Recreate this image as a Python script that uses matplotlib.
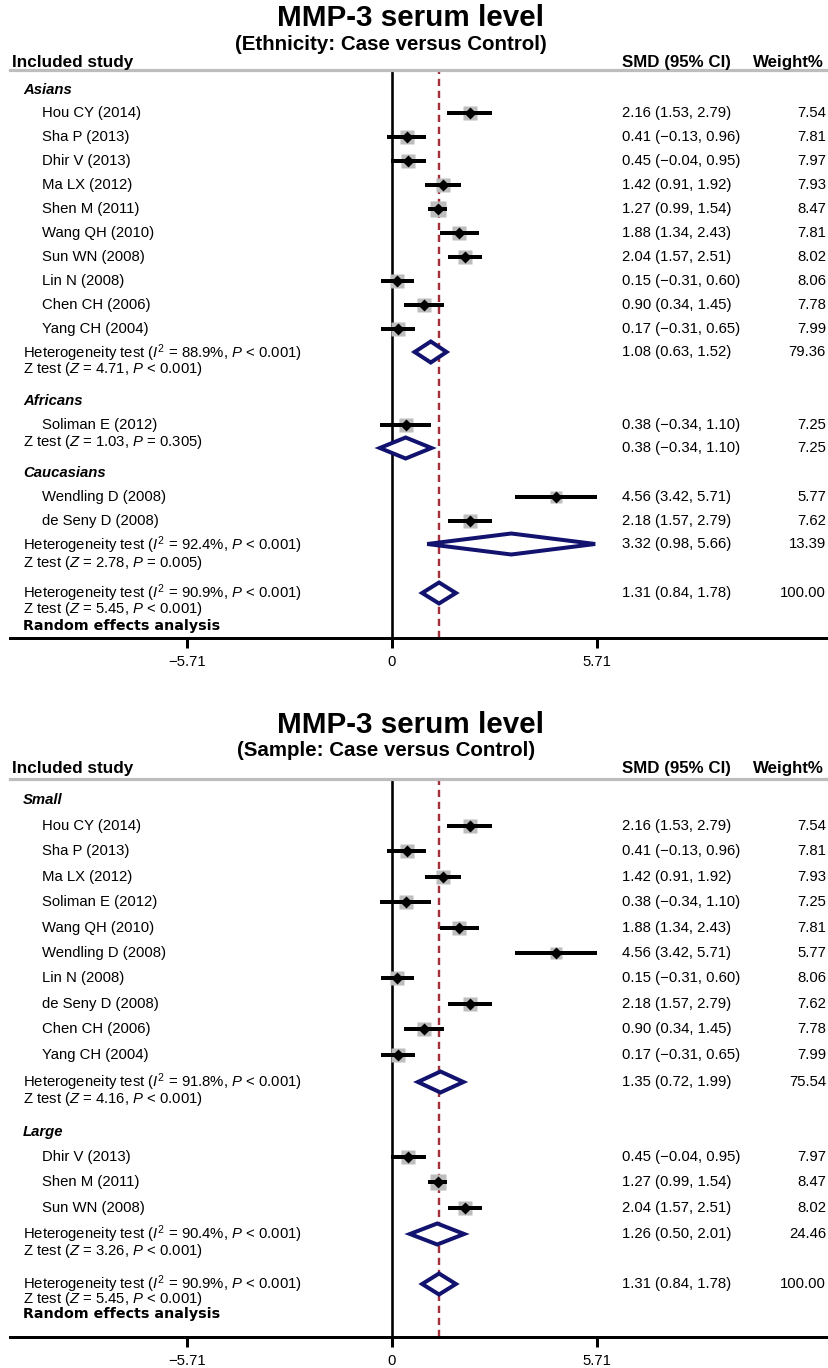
import matplotlib
matplotlib.use("Agg")
import matplotlib.pyplot as plt
import numpy as np
from matplotlib.transforms import blended_transform_factory

plt.rcParams['font.family'] = ['Liberation Sans', 'DejaVu Sans']
plt.rcParams['mathtext.fontset'] = 'custom'
plt.rcParams['mathtext.rm'] = 'Liberation Sans'
plt.rcParams['mathtext.it'] = 'Liberation Sans:italic'
plt.rcParams['mathtext.bf'] = 'Liberation Sans:bold'

# ---------------- data ----------------
study_names = ["Hou CY (2014)", "Sha P (2013)", "Dhir V (2013)", "Ma LX (2012)",
               "Shen M (2011)", "Wang QH (2010)", "Sun WN (2008)", "Lin N (2008)",
               "Chen CH (2006)", "Yang CH (2004)", "Soliman E (2012)",
               "Wendling D (2008)", "de Seny D (2008)"]
smd = [2.16, 0.41, 0.45, 1.42, 1.27, 1.88, 2.04, 0.15, 0.90, 0.17, 0.38, 4.56, 2.18]
ci_lo = [1.53, -0.13, -0.04, 0.91, 0.99, 1.34, 1.57, -0.31, 0.34, -0.31, -0.34, 3.42, 1.57]
ci_hi = [2.79, 0.96, 0.95, 1.92, 1.54, 2.43, 2.51, 0.60, 1.45, 0.65, 1.10, 5.71, 2.79]
weight = [7.54, 7.81, 7.97, 7.93, 8.47, 7.81, 8.02, 8.06, 7.78, 7.99, 7.25, 5.77, 7.62]

# panel 1: ethnicity
eth_groups = ["Asians", "Africans", "Caucasians"]
eth_members = [["Hou CY (2014)", "Sha P (2013)", "Dhir V (2013)", "Ma LX (2012)",
                "Shen M (2011)", "Wang QH (2010)", "Sun WN (2008)", "Lin N (2008)",
                "Chen CH (2006)", "Yang CH (2004)"],
               ["Soliman E (2012)"],
               ["Wendling D (2008)", "de Seny D (2008)"]]
eth_sum_est = [1.08, 0.38, 3.32]
eth_sum_lo = [0.63, -0.34, 0.98]
eth_sum_hi = [1.52, 1.10, 5.66]
eth_sum_w = [79.36, 7.25, 13.39]
eth_i2 = [88.9, None, 92.4]
eth_z = [4.71, 1.03, 2.78]
eth_zp = ["< 0.001", "= 0.305", "= 0.005"]

# panel 2: sample size
smp_groups = ["Small", "Large"]
smp_members = [["Hou CY (2014)", "Sha P (2013)", "Ma LX (2012)", "Soliman E (2012)",
                "Wang QH (2010)", "Wendling D (2008)", "Lin N (2008)",
                "de Seny D (2008)", "Chen CH (2006)", "Yang CH (2004)"],
               ["Dhir V (2013)", "Shen M (2011)", "Sun WN (2008)"]]
smp_sum_est = [1.35, 1.26]
smp_sum_lo = [0.72, 0.50]
smp_sum_hi = [1.99, 2.01]
smp_sum_w = [75.54, 24.46]
smp_i2 = [91.8, 90.4]
smp_z = [4.16, 3.26]
smp_zp = ["< 0.001", "< 0.001"]

overall_est, overall_lo, overall_hi, overall_w = 1.31, 0.84, 1.78, 100.00
overall_i2, overall_z = 90.9, 5.45
tick_vals = [-5.71, 0, 5.71]
tick_labels = ["\u22125.71", "0", "5.71"]
subtitles = ["(Ethnicity: Case versus Control)", "(Sample: Case versus Control)"]

# ---------------- layout (pixels) ----------------
W, H = 829, 1368
fig = plt.figure(figsize=(W / 100, H / 100), dpi=100)
PX0, PX1 = 392.0, 597.0            # pixel of x=0 and x=5.71
scale = (PX1 - PX0) / 5.71
xlim = ((10 - PX0) / scale, (829 - PX0) / scale)

NAVY = '#12126f'
RED = '#a3303a'
GRAY = '#bdbdbd'
LW = 0.72  # pt per px
FS = 10.7  # body font size


def fmt(v):
    return f"{v:.2f}".replace("-", "\u2212")


def ci_text(e, lo, hi):
    return f"{fmt(e)} ({fmt(lo)}, {fmt(hi)})"


def make_panel(top, bottom, title_y, sub_y, head_y, sub_x, subtitle):
    ax = fig.add_axes([10 / W, 1 - bottom / H, (829 - 10) / W, (bottom - top) / H])
    ax.set_xlim(*xlim)
    ax.set_ylim(bottom, top)
    for s in ['left', 'right']:
        ax.spines[s].set_visible(False)
    ax.spines['top'].set_color(GRAY)
    ax.spines['top'].set_linewidth(3.2 * LW)
    ax.spines['bottom'].set_linewidth(3 * LW)
    ax.set_yticks([])
    ax.set_xticks(tick_vals)
    ax.set_xticklabels(tick_labels, fontsize=FS)
    ax.tick_params(axis='x', length=10 * LW, width=3 * LW, pad=5)
    ax.axvline(0, color='black', lw=2.6 * LW, zorder=1)
    ax.axvline(overall_est, color=RED, lw=2.4 * LW, ls=(0, (3, 2)), zorder=1)
    fig.text(411 / W, 1 - title_y / H, "MMP-3 serum level", ha='center', va='center',
             fontsize=21.3, fontweight='bold')
    fig.text(sub_x / W, 1 - sub_y / H, subtitle, ha='center', va='center',
             fontsize=14.8, fontweight='bold')
    fig.text(12 / W, 1 - head_y / H, "Included study", ha='left', va='center',
             fontsize=12.3, fontweight='bold')
    fig.text(622 / W, 1 - head_y / H, "SMD (95% CI)", ha='left', va='center',
             fontsize=12.2, fontweight='bold')
    fig.text(824 / W, 1 - head_y / H, "Weight%", ha='right', va='center',
             fontsize=12.2, fontweight='bold')
    tr = blended_transform_factory(fig.transFigure, ax.transData)
    return ax, tr


def draw_study(ax, tr, name, y):
    i = study_names.index(name)
    ax.plot([ci_lo[i], ci_hi[i]], [y, y], color='black', lw=4 * LW,
            solid_capstyle='butt', zorder=3)
    ax.plot([smd[i]], [y], marker='s', ms=10.5 * np.sqrt(weight[i] / 7.8),
            color=GRAY, mec='none', zorder=2)
    ax.plot([smd[i]], [y], marker='D', ms=6.3, color='black', mec='none', zorder=4)
    ax.text(42 / W, y, name, transform=tr, ha='left', va='center', fontsize=FS)
    ax.text(622 / W, y, ci_text(smd[i], ci_lo[i], ci_hi[i]), transform=tr,
            ha='left', va='center', fontsize=FS)
    ax.text(826 / W, y, f"{weight[i]:.2f}", transform=tr, ha='right', va='center',
            fontsize=FS)


def draw_diamond(ax, tr, e, lo, hi, w, y, h=21):
    xs = [lo, e, hi, e, lo]
    ys = [y, y - h / 2, y, y + h / 2, y]
    ax.fill(xs, ys, facecolor='white', edgecolor=NAVY, lw=4 * LW, zorder=5,
            joinstyle='miter')
    ax.text(622 / W, y, ci_text(e, lo, hi), transform=tr, ha='left', va='center',
            fontsize=FS)
    ax.text(826 / W, y, f"{w:.2f}", transform=tr, ha='right', va='center', fontsize=FS)


def label(ax, tr, y, txt, x=23):
    ax.text(x / W, y, txt, transform=tr, ha='left', va='center', fontsize=FS)


def group_label(ax, tr, y, txt):
    ax.text(23 / W, y, txt, transform=tr, ha='left', va='center', fontsize=FS,
            fontweight='bold', style='italic')


def het_text(i2):
    return f"Heterogeneity test ($I^2$ = {i2}%, $P$ < 0.001)"


def z_text(z, p):
    return f"Z test ($Z$ = {z:.2f}, $P$ {p})"


def draw_overall(ax, tr, y_het, y_z, y_rand, y_dia):
    draw_diamond(ax, tr, overall_est, overall_lo, overall_hi, overall_w, y_dia)
    label(ax, tr, y_het, het_text(overall_i2))
    label(ax, tr, y_z, z_text(overall_z, "< 0.001"))
    ax.text(23 / W, y_rand, "Random effects analysis", transform=tr, ha='left',
            va='center', fontsize=10.3, fontweight='heavy', family='DejaVu Sans')


# ---------------- panel 1 ----------------
ax1, tr1 = make_panel(70, 638, 18, 45, 62, 391, subtitles[0])
p1_group_y = [90, 401, 473]
p1_first_y = [113, 425, 497]
p1_step = 24
p1_het_y = [353, None, 545]
p1_z_y = [369, 442, 563]
p1_dia_y = [352, 448, 544]
for g in range(3):
    group_label(ax1, tr1, p1_group_y[g], eth_groups[g])
    for k, name in enumerate(eth_members[g]):
        draw_study(ax1, tr1, name, p1_first_y[g] + k * p1_step)
    if eth_i2[g] is not None:
        label(ax1, tr1, p1_het_y[g], het_text(eth_i2[g]))
    label(ax1, tr1, p1_z_y[g], z_text(eth_z[g], eth_zp[g]))
    draw_diamond(ax1, tr1, eth_sum_est[g], eth_sum_lo[g], eth_sum_hi[g], eth_sum_w[g],
                 p1_dia_y[g])
draw_overall(ax1, tr1, 593, 609, 626, 593)

# ---------------- panel 2 ----------------
ax2, tr2 = make_panel(779, 1337, 725, 750, 769, 386, subtitles[1])
p2_group_y = [800, 1132]
p2_first_y = [826, 1157]
p2_step = 25.4
p2_het_y = [1082, 1234]
p2_z_y = [1099, 1251]
p2_dia_y = [1082, 1234]
for g in range(2):
    group_label(ax2, tr2, p2_group_y[g], smp_groups[g])
    for k, name in enumerate(smp_members[g]):
        draw_study(ax2, tr2, name, p2_first_y[g] + k * p2_step)
    label(ax2, tr2, p2_het_y[g], het_text(smp_i2[g]))
    label(ax2, tr2, p2_z_y[g], z_text(smp_z[g], smp_zp[g]))
    draw_diamond(ax2, tr2, smp_sum_est[g], smp_sum_lo[g], smp_sum_hi[g], smp_sum_w[g],
                 p2_dia_y[g])
draw_overall(ax2, tr2, 1284, 1299, 1314, 1284)

fig.savefig("out.png", dpi=100)
